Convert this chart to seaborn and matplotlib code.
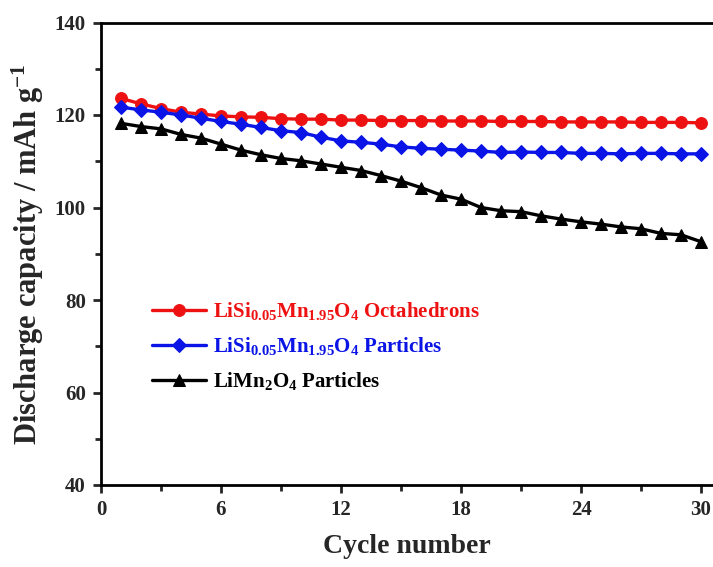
import numpy as np
import pandas as pd
import matplotlib
matplotlib.use("Agg")
import matplotlib.pyplot as plt
from matplotlib.ticker import MultipleLocator
import seaborn as sns

# --- data ---
cycles = list(range(1, 31))

octahedrons = [123.6, 122.4, 121.4, 120.6, 120.2, 119.8, 119.6, 119.5, 119.2, 119.1,
               119.1, 118.9, 118.9, 118.8, 118.8, 118.8, 118.7, 118.7, 118.7, 118.6,
               118.6, 118.6, 118.5, 118.5, 118.5, 118.5, 118.4, 118.4, 118.4, 118.3]

si_particles = [121.7, 121.1, 120.6, 120.0, 119.3, 118.6, 118.0, 117.3, 116.6, 116.2,
                115.2, 114.4, 114.1, 113.7, 113.1, 112.8, 112.6, 112.4, 112.2, 111.9,
                112.0, 111.9, 111.9, 111.7, 111.7, 111.6, 111.7, 111.7, 111.6, 111.6]

lmo_particles = [118.2, 117.5, 117.0, 115.8, 115.0, 113.7, 112.4, 111.4, 110.6, 110.1,
                 109.4, 108.7, 108.0, 106.9, 105.7, 104.3, 102.7, 101.8, 100.0, 99.3,
                 99.1, 98.2, 97.5, 96.9, 96.4, 95.8, 95.4, 94.4, 94.1, 92.6]

labels = [r"LiSi$_{0.05}$Mn$_{1.95}$O$_{4}$ Octahedrons",
          r"LiSi$_{0.05}$Mn$_{1.95}$O$_{4}$ Particles",
          r"LiMn$_{2}$O$_{4}$ Particles"]
colors = ["#ee1111", "#0a14e6", "#000000"]
markers = ["o", "D", "^"]

x_ticks = [0, 6, 12, 18, 24, 30]
y_ticks = [40, 60, 80, 100, 120, 140]

# --- plotting ---
sns.set_theme(style="ticks")
plt.rcParams["font.family"] = ["Liberation Serif", "DejaVu Serif"]
plt.rcParams["font.weight"] = "bold"
plt.rcParams["mathtext.default"] = "regular"

fig = plt.figure(figsize=(7.13, 5.67), dpi=100)
ax = fig.add_axes([101 / 713, 1 - 485 / 567, 1 - 101 / 713, (485 - 22.5) / 567])

series = [octahedrons, si_particles, lmo_particles]
for values, label, color, marker in zip(series, labels, colors, markers):
    df = pd.DataFrame({"cycle": cycles, "capacity": values})
    ms = 7.5 if marker == "D" else 8.5
    sns.lineplot(data=df, x="cycle", y="capacity", ax=ax, color=color, marker=marker,
                 markersize=ms, markeredgecolor=color, linewidth=2.4, label=label)

ax.set_xlim(0, 30.6)
ax.set_ylim(40, 140)
ax.set_xticks(x_ticks)
ax.set_yticks(y_ticks)
ax.xaxis.set_minor_locator(MultipleLocator(3))
ax.yaxis.set_minor_locator(MultipleLocator(10))
ax.tick_params(axis="both", which="major", direction="out", length=6, width=2,
               labelsize=15, pad=5)
ax.tick_params(axis="both", which="minor", direction="out", length=4, width=2)
for lab in ax.get_xticklabels() + ax.get_yticklabels():
    lab.set_fontweight("bold")

for side in ["left", "bottom", "top"]:
    ax.spines[side].set_linewidth(2)
    ax.spines[side].set_color("black")
ax.spines["right"].set_visible(False)

ax.set_xlabel("Cycle number", fontsize=20, fontweight="bold", labelpad=10)
ax.set_ylabel(r"Discharge capacity / mAh g$^{-1}$", fontsize=22, fontweight="bold", labelpad=6)

leg = ax.legend(loc="upper left", bbox_to_anchor=(0.07, 0.418), frameon=False,
                fontsize=15, handlelength=2.6, handletextpad=0.3, labelspacing=0.62,
                borderaxespad=0)
for text, color in zip(leg.get_texts(), colors):
    text.set_color(color)
    text.set_fontweight("bold")

plt.savefig("out.png", dpi=100)
